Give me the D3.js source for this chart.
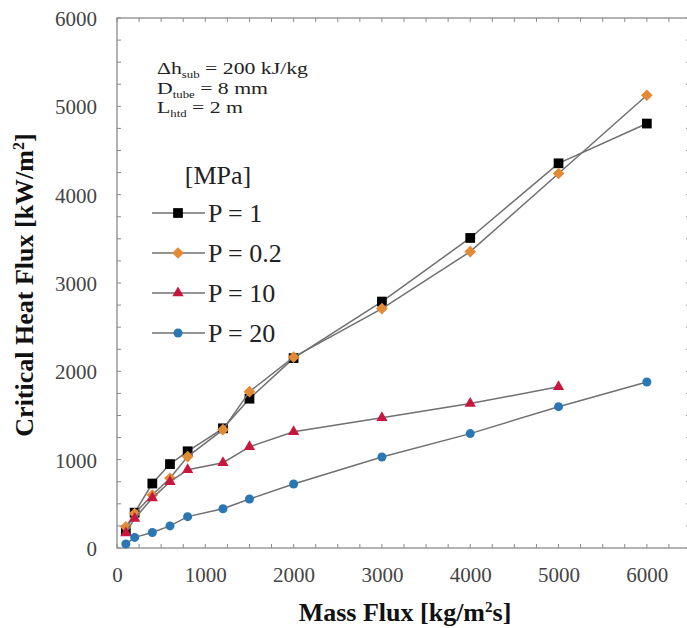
<!DOCTYPE html>
<html><head><meta charset="utf-8">
<script src="https://cdn.jsdelivr.net/npm/d3@7"></script>
<style>body{margin:0;background:#fff}svg{display:block}</style>
</head><body><svg id="c" width="687" height="628"></svg>
<script>
const massFlux = [100, 200, 400, 600, 800, 1200, 1500, 2000, 3000, 4000, 5000, 6000];
const chfP1   = [200, 400, 730, 950, 1095, 1355, 1690, 2150, 2790, 3510, 4355, 4805];
const chfP02  = [240, 390, 600, 790, 1035, 1340, 1770, 2160, 2710, 3355, 4240, 5125];
const chfP10  = [170, 335, 565, 750, 885, 965, 1145, 1315, 1475, 1635, 1825];
const chfP20  = [45, 120, 175, 250, 355, 445, 555, 725, 1030, 1295, 1600, 1880];
const seriesNames = ["P = 1", "P = 0.2", "P = 10", "P = 20"];
const xTicks = [0, 1000, 2000, 3000, 4000, 5000, 6000];
const yTicks = [0, 1000, 2000, 3000, 4000, 5000, 6000];
const legendTitle = "[MPa]";
const xTitle = ["Mass Flux [kg/m", "2", "s]"];
const yTitle = ["Critical Heat Flux [kW/m", "2", "]"];
const noteLines = [["Δh", "sub", " = 200 kJ/kg"], ["D", "tube", " = 8 mm"], ["L", "htd", " = 2 m"]];

const svg = d3.select("#c");
const x = d3.scaleLinear().domain([0, 6500]).range([117, 691]);
const y = d3.scaleLinear().domain([0, 6000]).range([548, 18]);
const serif = "'Liberation Serif','Times New Roman',serif";
const axisCol = "#8a8a8a";

// frame
svg.append("rect").attr("x", x(0)).attr("y", y(6000))
  .attr("width", x(6500) - x(0)).attr("height", y(0) - y(6000))
  .attr("fill", "none").attr("stroke", axisCol).attr("stroke-width", 1.3);

// minor/major inward ticks on all sides
const xMinor = d3.range(0, 6501, 250), yMinor = d3.range(0, 6001, 250);
const tg = svg.append("g").attr("stroke", axisCol).attr("stroke-width", 1);
xMinor.forEach(v => {
  tg.append("line").attr("x1", x(v)).attr("x2", x(v)).attr("y1", y(0)).attr("y2", y(0) - 4);
  tg.append("line").attr("x1", x(v)).attr("x2", x(v)).attr("y1", y(6000)).attr("y2", y(6000) + 4);
});
yMinor.forEach(v => {
  tg.append("line").attr("x1", x(0)).attr("x2", x(0) + 4).attr("y1", y(v)).attr("y2", y(v));
  tg.append("line").attr("x1", x(6500)).attr("x2", x(6500) - 5).attr("y1", y(v)).attr("y2", y(v));
});

// axes with labels
const xAxis = d3.axisBottom(x).tickValues(xTicks).tickSize(0).tickPadding(0).tickFormat(d3.format("d"));
const gx = svg.append("g").attr("transform", `translate(0,${y(0)})`).call(xAxis);
gx.select(".domain").remove();
gx.selectAll("text").attr("y", 34).attr("dy", 0).attr("font-family", serif).attr("font-size", 21).attr("fill", "#444");
const yAxis = d3.axisLeft(y).tickValues(yTicks).tickSize(0).tickPadding(0).tickFormat(d3.format("d"));
const gy = svg.append("g").attr("transform", `translate(${x(0)},0)`).call(yAxis);
gy.select(".domain").remove();
gy.selectAll("text").attr("x", -20).attr("dy", "0.35em").attr("font-family", serif).attr("font-size", 21).attr("fill", "#444");

// axis titles
const xt = svg.append("text").attr("x", 405).attr("y", 621).attr("text-anchor", "middle")
  .attr("font-family", serif).attr("font-weight", "bold").attr("font-size", 26).attr("fill", "#111");
xt.append("tspan").text(xTitle[0]);
xt.append("tspan").attr("dy", -9).attr("font-size", 15).text(xTitle[1]);
xt.append("tspan").attr("dy", 9).text(xTitle[2]);
const yt = svg.append("text").attr("transform", "translate(33,285) rotate(-90)").attr("text-anchor", "middle")
  .attr("font-family", serif).attr("font-weight", "bold").attr("font-size", 26).attr("fill", "#111");
yt.append("tspan").text(yTitle[0]);
yt.append("tspan").attr("dy", -9).attr("font-size", 16).text(yTitle[1]);
yt.append("tspan").attr("dy", 9).text(yTitle[2]);

// series
const series = [
  {name: seriesNames[0], vals: chfP1, color: "#000000", sym: d3.symbolSquare, size: 95, rot: 0},
  {name: seriesNames[1], vals: chfP02, color: "#e38a35", sym: d3.symbolSquare, size: 68, rot: 45},
  {name: seriesNames[2], vals: chfP10, color: "#c8173f", sym: d3.symbolTriangle, size: 55, rot: 0},
  {name: seriesNames[3], vals: chfP20, color: "#2a77b4", sym: d3.symbolCircle, size: 64, rot: 0}
];
const line = d3.line().x(d => x(d[0])).y(d => y(d[1]));
series.forEach(s => {
  const pts = s.vals.map((v, i) => [massFlux[i], v]);
  svg.append("path").datum(pts).attr("d", line).attr("fill", "none")
    .attr("stroke", "#707070").attr("stroke-width", 1.5);
  svg.append("g").selectAll("path").data(pts).join("path")
    .attr("transform", d => `translate(${x(d[0])},${y(d[1])}) rotate(${s.rot})`)
    .attr("d", d3.symbol().type(s.sym).size(s.size)).attr("fill", s.color);
});

// note text (glyphs appear horizontally stretched in the reference)
noteLines.forEach((ln, i) => {
  const t = svg.append("text").attr("transform", `translate(157,${74 + i * 19.5}) scale(1.28,1)`)
    .attr("font-family", serif).attr("font-size", 17).attr("fill", "#222");
  t.append("tspan").text(ln[0]);
  t.append("tspan").attr("dy", 4).attr("font-size", 10).text(ln[1]);
  t.append("tspan").attr("dy", -4).text(ln[2]);
});

// legend
svg.append("text").attr("x", 218).attr("y", 184).attr("text-anchor", "middle")
  .attr("font-family", serif).attr("font-size", 26).attr("fill", "#222").text(legendTitle);
series.forEach((s, i) => {
  const ly = 213 + i * 40;
  svg.append("line").attr("x1", 152).attr("x2", 205).attr("y1", ly).attr("y2", ly)
    .attr("stroke", "#707070").attr("stroke-width", 1.5);
  svg.append("path").attr("transform", `translate(178,${ly}) rotate(${s.rot})`)
    .attr("d", d3.symbol().type(s.sym).size(s.size)).attr("fill", s.color);
  svg.append("text").attr("x", 208).attr("y", ly).attr("dy", "0.35em")
    .attr("font-family", serif).attr("font-size", 26).attr("fill", "#222").text(s.name);
});
</script></body></html>
